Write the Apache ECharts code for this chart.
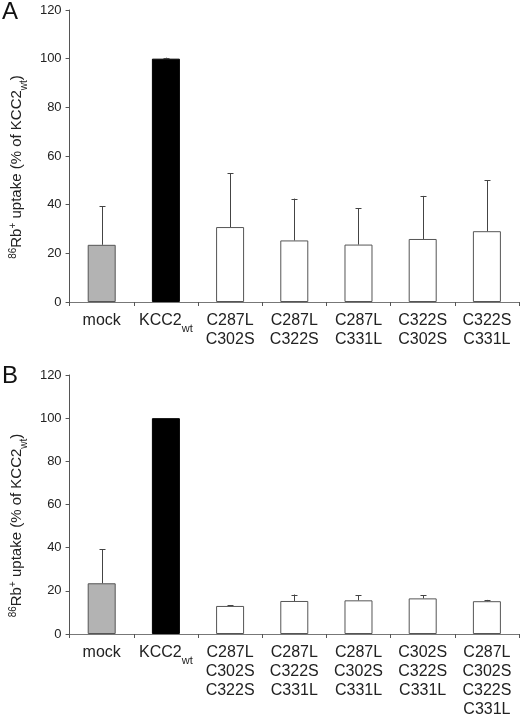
<!DOCTYPE html>
<html>
<head>
<meta charset="utf-8">
<script src="https://cdn.jsdelivr.net/npm/echarts@6/dist/echarts.min.js"></script>
<style>
html,body{margin:0;padding:0;background:#fff;}
#chart{width:520px;height:719px;}
</style>
</head>
<body>
<div id="chart"></div>
<script>
// ---- data ----
var categoriesA = ['mock', 'KCC2wt', 'C287L\nC302S', 'C287L\nC322S', 'C287L\nC331L', 'C322S\nC302S', 'C322S\nC331L'];
var valuesA = [23.5, 100, 30.8, 25.3, 23.6, 25.9, 29.1];
var errorsA = [15.8, 0.4, 22.1, 17.2, 14.9, 17.7, 21.0];

var categoriesB = ['mock', 'KCC2wt', 'C287L\nC302S\nC322S', 'C287L\nC322S\nC331L', 'C287L\nC302S\nC331L', 'C302S\nC322S\nC331L', 'C287L\nC302S\nC322S\nC331L'];
var valuesB = [23.5, 100, 13.0, 15.3, 15.6, 16.5, 15.2];
var errorsB = [15.8, 0, 0.4, 3.0, 2.4, 1.5, 0.6];

var yTicks = [0, 20, 40, 60, 80, 100, 120];
var panelLabels = ['A', 'B'];

// ---- styling/build ----
var FONT = 'Arial, "Liberation Sans", sans-serif';
var AXIS_COLOR = '#555';
function fillFor(i) { return i === 0 ? '#b3b3b3' : (i === 1 ? '#000000' : '#ffffff'); }
function borderFor(i) { return i === 1 ? '#000000' : '#555555'; }

var yName = '{sup|86}{b|Rb}{sup|+}{b| uptake (% of KCC2}{sub|wt}{b|)}';
var nameRich = {
  b: {fontSize: 15, fontFamily: FONT, color: '#222', lineHeight: 18},
  sup: {fontSize: 10, fontFamily: FONT, color: '#222', verticalAlign: 'top', lineHeight: 10},
  sub: {fontSize: 10, fontFamily: FONT, color: '#222', verticalAlign: 'bottom', lineHeight: 10, padding: [0, 0, -3, 0]}
};
var labelRich = {
  b: {fontSize: 16, fontFamily: FONT, color: '#222', lineHeight: 19},
  sub: {fontSize: 11, fontFamily: FONT, color: '#222', verticalAlign: 'bottom', lineHeight: 12, padding: [0, 0, -4, 0]}
};

function makeX(cats, gi) {
  return {
    type: 'category', gridIndex: gi, data: cats,
    axisLine: {lineStyle: {color: '#777', width: 1}},
    axisTick: {show: true, interval: 0, length: 4, lineStyle: {color: '#555'}},
    axisLabel: {
      interval: 0, margin: 9, color: '#222', fontSize: 16, fontFamily: FONT, lineHeight: 19,
      formatter: function (v) {
        if (v === 'KCC2wt') return '{b|KCC2}{sub|wt}';
        return v.split('\n').map(function (s) { return '{b|' + s + '}'; }).join('\n');
      },
      rich: labelRich
    }
  };
}
function makeY(gi, shift) {
  return {
    type: 'value', gridIndex: gi, min: yTicks[0], max: yTicks[yTicks.length - 1], interval: 20,
    axisLine: {show: true, lineStyle: {color: AXIS_COLOR, width: 1}},
    axisTick: {show: true, length: 4, lineStyle: {color: AXIS_COLOR}},
    splitLine: {show: false},
    axisLabel: {margin: 8, color: '#222', fontSize: 13, fontFamily: FONT},
    name: yName, nameLocation: 'middle', nameRotate: 90, nameGap: 38,
    nameTextStyle: {rich: nameRich, padding: [0, shift, 0, 0]}
  };
}
function barData(vals) {
  return vals.map(function (v, i) {
    return {value: v, itemStyle: {color: fillFor(i), borderColor: borderFor(i), borderWidth: 1}};
  });
}
function errData(vals, errs) {
  return vals.map(function (v, i) { return [i, v, v + errs[i], errs[i]]; });
}
function errRender(params, api) {
  var e = api.value(3);
  if (!(e > 0)) return null;
  var p0 = api.coord([api.value(0), api.value(1)]);
  var p1 = api.coord([api.value(0), api.value(2)]);
  var x = Math.round(p0[0]) + 0.5;
  var style = {stroke: '#444', lineWidth: 1};
  return {
    type: 'group',
    children: [
      {type: 'line', shape: {x1: x, y1: p0[1], x2: x, y2: p1[1]}, style: style},
      {type: 'line', shape: {x1: x - 3, y1: Math.round(p1[1]) + 0.5, x2: x + 3, y2: Math.round(p1[1]) + 0.5}, style: style}
    ]
  };
}

var chart = echarts.init(document.getElementById('chart'), null, {renderer: 'canvas'});
chart.setOption({
  backgroundColor: '#fff',
  animation: false,
  graphic: [
    {type: 'text', left: 2, top: 0, style: {text: panelLabels[0], fontSize: 24, fontFamily: FONT, fill: '#111'}},
    {type: 'text', left: 2, top: 364, style: {text: panelLabels[1], fontSize: 24, fontFamily: FONT, fill: '#111'}}
  ],
  grid: [
    {left: 60, right: 1, top: 10, height: 292},
    {left: 60, right: 1, top: 375, height: 262}
  ],
  xAxis: [makeX(categoriesA, 0), makeX(categoriesB, 1)],
  yAxis: [makeY(0, 22), makeY(1, 42)],
  series: [
    {type: 'bar', xAxisIndex: 0, yAxisIndex: 0, barWidth: 28, data: barData(valuesA)},
    {type: 'custom', xAxisIndex: 0, yAxisIndex: 0, renderItem: errRender, data: errData(valuesA, errorsA), z: 3},
    {type: 'bar', xAxisIndex: 1, yAxisIndex: 1, barWidth: 28, data: barData(valuesB)},
    {type: 'custom', xAxisIndex: 1, yAxisIndex: 1, renderItem: errRender, data: errData(valuesB, errorsB), z: 3}
  ]
});
</script>
</body>
</html>
